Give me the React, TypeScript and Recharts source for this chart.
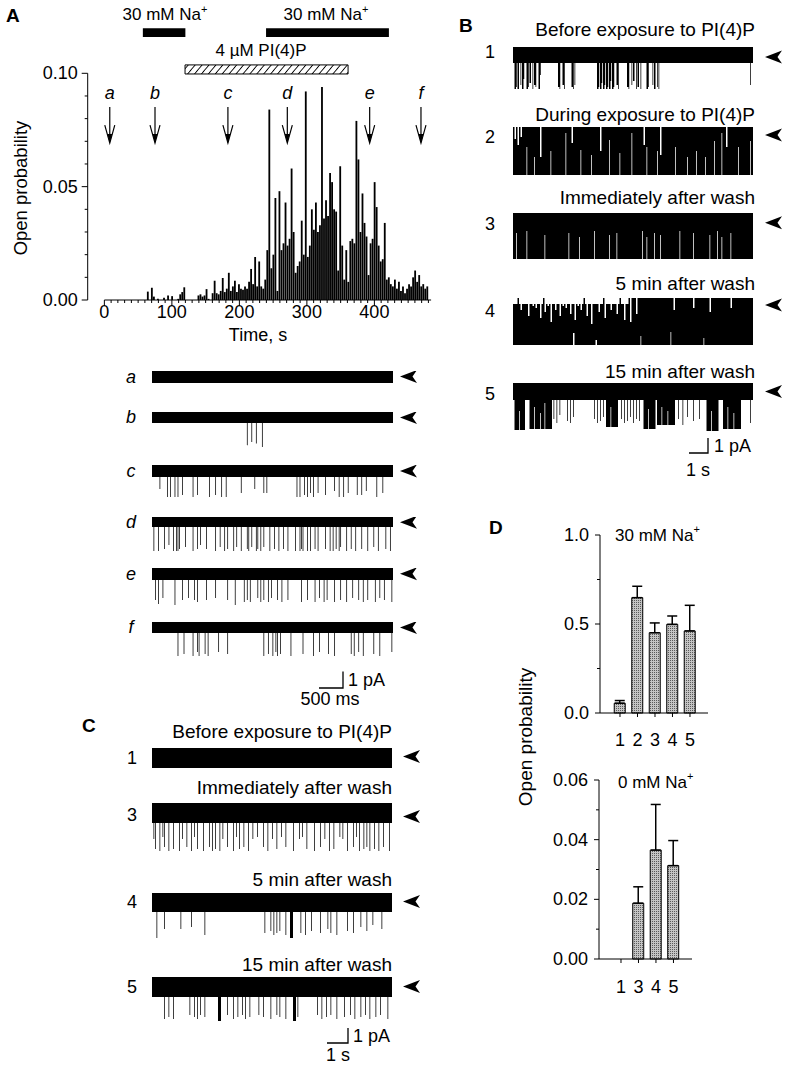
import React from 'react';
import {
  AreaChart, Area, BarChart, Bar, XAxis, YAxis,
  ReferenceArea, ReferenceDot, ReferenceLine, ErrorBar,
} from 'recharts';

const FONT = '"Liberation Sans", Arial, Helvetica, sans-serif';

// ---------- Panel A: open probability vs time (3 s bins, units of 0.001) ----------
const BIN_S = 3;
const openProb = [
  0, 0, 0, 0, 0, 0, 0, 0, 0, 0,
  0, 0, 0, 0, 0, 0, 0, 0, 0, 0,
  0, 3.7, 0, 5.4, 1.5, 0, 0.5, 0, 0, 1,
  0, 2, 0, 1.7, 0, 0, 0.5, 2.5, 3.5, 5.6,
  0, 0, 0, 0, 0, 0, 2, 2.5, 1.5, 2,
  4.8, 0.5, 0, 3, 8.5, 3, 2.5, 4, 9.7, 3.5,
  5, 12, 4, 6, 8.5, 3.5, 7, 5, 4.5, 6,
  5, 8, 13.7, 7, 19, 6, 17, 6, 5, 9,
  22, 84, 14, 20, 45, 4, 48, 22, 25, 43,
  24, 27, 58, 30, 12, 15, 17, 35, 20, 92,
  19, 24, 40, 31, 43, 30, 33, 94, 36, 44,
  37, 56, 52, 40, 39, 13, 59, 24, 9, 22,
  8, 26, 27, 25, 79, 62, 30, 47, 34, 28,
  11, 25, 27, 52, 41, 24, 17, 18, 34, 9,
  10, 7, 6, 9, 5, 8, 4, 6, 3, 5,
  7, 6, 10, 13, 8, 11, 6, 7, 5, 6,
];
const timeTicks = Array.from({ length: 49 }, (_, i) => i * 10);
const probTicks = [0, 10, 20, 30, 40, 50, 60, 70, 80, 90, 100];
const markers = [
  { id: 'a', t: 8 }, { id: 'b', t: 75 }, { id: 'c', t: 183 },
  { id: 'd', t: 271 }, { id: 'e', t: 393 }, { id: 'f', t: 469 },
];
const naPeriods = [[57, 120], [239.5, 421.5]];
const pipPeriod = [119.5, 361];

// ---------- single-channel traces: [from, depth, to?, top?] ----------
type Ev = [number, number, number?, number?];
interface TraceData { base: number; events: Ev[] }
const TRACE_N = 160;
const FINE = 2; // drawing sub-steps per sample, so single openings are hairlines

const tracesA: TraceData[] = [
  { base: 6, events: [] },
  { base: 5.5, events: [[63, 16.6], [66, 15], [69, 15.8], [73, 17.5]] },
  { base: 6, events: [[5, 12], [10, 16], [12, 16], [15, 16], [17, 16], [20, 15], [27, 16], [30, 15], [38, 16], [42, 15], [46, 16], [49, 16], [59, 14], [68, 12], [74, 14], [76, 14], [96, 16], [98, 16], [101, 15], [103, 16], [105, 14], [107, 16], [110, 14], [115, 15], [121, 13], [124, 16], [127, 16], [130, 14], [136, 15], [139, 15], [142, 13], [149, 16], [153, 14]] },
  { base: 5, events: [[1, 17], [4, 17], [8, 16], [11, 14], [14, 17], [16, 17], [17, 17], [18, 16], [22, 15], [27, 17], [30, 16], [32, 14], [36, 16], [42, 17], [45, 15], [48, 17], [50, 16], [54, 17], [56, 15], [59, 17], [63, 16], [64, 17], [66, 15], [69, 17], [70, 16], [72, 17], [74, 15], [78, 17], [81, 16], [84, 17], [87, 16], [90, 17], [95, 17], [98, 17], [99, 16], [100, 17], [103, 17], [105, 17], [108, 16], [110, 17], [115, 16], [118, 17], [120, 17], [122, 16], [124, 17], [125, 15], [129, 17], [132, 16], [135, 17], [139, 16], [143, 17], [147, 15], [150, 17], [155, 16], [158, 17]] },
  { base: 6, events: [[2, 16], [4, 18], [7, 15], [15, 18.5], [20, 16], [24, 15], [28, 16], [30, 17], [36, 16], [42, 15], [50, 16], [55, 18.5], [61, 17], [63, 16], [65, 17], [70, 15], [72, 17], [74, 16], [77, 17], [79, 15], [83, 16], [86, 17], [90, 16], [99, 17], [103, 16], [108, 17], [111, 15], [114, 17], [116, 16], [121, 17], [125, 16], [129, 17], [133, 15], [137, 16], [140, 17], [143, 16], [148, 17], [151, 15], [154, 16], [159, 17]] },
  { base: 5.5, events: [[17, 17], [21, 16], [27, 17], [30, 15], [31, 17], [35, 16], [37, 17], [44, 15], [50, 16], [74, 17], [77, 16], [80, 17], [82, 15], [83, 17], [85, 16], [92, 17], [100, 16], [107, 17], [111, 15], [117, 16], [121, 17], [132, 16], [134, 17], [137, 15], [140, 17], [147, 16], [151, 17], [159, 15]] },
];

const tracesB: TraceData[] = [
  { base: 8, events: [[1, 21, 1], [2, 20], [3, 21, 3], [5, 19], [6, 21, 6], [7, 16], [9, 21, 9], [10, 20], [11, 18, 11], [13, 21], [14, 19, 14], [15, 20], [17, 21, 17], [18, 14], [30, 20, 30], [31, 21], [33, 19, 33], [34, 21], [39, 20, 39], [40, 21], [41, 19], [56, 21, 56], [57, 20], [58, 21, 58], [59, 18], [60, 21, 60], [61, 19], [62, 21, 62], [63, 20], [64, 21, 64], [65, 17], [66, 21, 66], [67, 20], [69, 19, 69], [70, 21], [76, 20, 76], [77, 21], [79, 19], [80, 17, 80], [82, 21], [83, 20, 83], [85, 21], [89, 21, 89], [90, 20], [93, 19], [94, 21, 94], [96, 20], [97, 21], [158, 19]] },
  { base: 24, events: [[1, 24, 1, 6], [3, 24, 3, 9], [5, 24, 5, 5], [9, 10], [14, 15], [18, 24, 18, 15], [25, 12], [35, 3], [39, 24, 39, 8], [45, 11.5], [52, 14], [58, 24, 58, 12], [64, 6.5], [71, 13], [79, 3], [87, 24, 87, 9], [89, 10], [96, 12], [98, 24, 98, 14], [108, 10], [116, 15], [122, 12], [128, 15], [134, 7], [139, 3], [142, 24, 142, 10], [150, 10], [158, 7]] },
  { base: 23, events: [[2, 10], [9, 9], [21, 11], [37, 10], [44, 12], [54, 9], [64, 11], [69, 10], [86, 9], [89, 12], [94, 10], [98, 11], [111, 9], [120, 10], [131, 11], [136, 9], [139, 12], [145, 10]] },
  { base: 23.5, events: [[0, 23.5, 76, 3], [3, 23.5, 3, 0], [5, 23.5, 5, 6], [8, 23.5, 8, 3], [10, 23.5, 10, 9], [13, 23.5, 13, 4], [15, 23.5, 15, 5], [18, 23.5, 18, 10], [20, 23.5, 20, 0], [21, 23.5, 21, 7], [23, 23.5, 23, 4], [25, 23.5, 25, 12], [28, 23.5, 28, 6], [31, 23.5, 31, 9], [33, 23.5, 33, 4], [35, 23.5, 35, 5], [38, 23.5, 38, 8], [41, 23.5, 41, 11], [43, 23.5, 43, 4], [45, 23.5, 45, 6], [47, 23.5, 47, 0], [49, 23.5, 49, 9], [52, 23.5, 52, 13], [57, 23.5, 57, 7], [60, 23.5, 60, 0], [61, 23.5, 61, 10], [65, 23.5, 65, 6], [69, 23.5, 69, 8], [71, 23.5, 71, 0], [74, 23.5, 74, 11], [78, 23.5, 78, 12], [82, 23.5, 82, 8], [107, 23.5, 107, 6], [120, 23.5, 120, 5], [131, 23.5, 131, 7], [145, 23.5, 145, 5], [40, 17.5, 40, 3], [55, 21, 55, 3], [85, 19], [105, 17], [127, 20]] },
  { base: 8.5, events: [[1, 23.5, 7], [4, 14], [11, 23, 25], [14, 12], [18, 15], [21, 10], [27, 18], [29, 20], [31, 16], [36, 19], [38, 20], [40, 17], [54, 18], [56, 20], [58, 19], [60, 17], [62, 22, 69], [65, 12], [72, 18], [74, 20], [76, 19], [78, 17], [80, 20], [82, 18], [84, 19], [87, 23, 94], [90, 13], [96, 21, 107], [99, 12], [103, 14], [110, 18], [113, 21], [116, 17], [120, 19], [124, 18], [129, 24, 136], [132, 14], [140, 23, 151], [143, 12], [147, 15], [158, 20]] },
];

const tracesC: TraceData[] = [
  { base: 10, events: [] },
  { base: 10, events: [[1, 18], [2, 23], [5, 24], [7, 17], [8, 22], [11, 24], [14, 23], [18, 24], [20, 18], [23, 22], [26, 24], [28, 17], [30, 23], [34, 24], [38, 22], [40, 24], [42, 23], [45, 24], [47, 18], [50, 22], [54, 24], [56, 17], [58, 23], [61, 22], [64, 24], [67, 18], [70, 17], [74, 22], [77, 24], [80, 18], [83, 23], [86, 17], [89, 22], [94, 24], [98, 18], [100, 17], [103, 23], [108, 24], [112, 22], [115, 18], [118, 24], [121, 23], [125, 17], [127, 18], [130, 24], [134, 22], [136, 17], [138, 24], [141, 23], [143, 22], [145, 24], [148, 23], [151, 24], [154, 22], [158, 24]] },
  { base: 9.5, events: [[3, 22.5], [8, 18], [19, 18], [26, 17], [35, 21], [75, 20], [79, 19], [81, 21], [83, 20], [85, 19], [89, 21], [92, 22.5, 93], [99, 20], [102, 21], [106, 19], [112, 20], [117, 18], [119, 20], [123, 21], [130, 19], [134, 20], [139, 17], [143, 19], [147, 16], [153, 18]] },
  { base: 10, events: [[8, 21], [11, 20], [14, 21], [25, 19], [28, 20], [30, 21], [32, 19], [35, 20], [44, 22, 45], [50, 19], [54, 21], [57, 20], [60, 19], [62, 21], [65, 20], [71, 19], [74, 20], [79, 21], [83, 19], [85, 20], [89, 21], [94, 22, 95], [97, 20], [110, 19], [113, 21], [116, 20], [119, 19], [123, 21], [128, 20], [132, 19], [135, 21], [139, 20], [142, 19], [145, 21], [149, 20], [152, 19], [157, 21]] },
];

// ---------- Panel D ----------
const dUpperCond = ['1', '2', '3', '4', '5'];
const dUpperPo = [0.055, 0.648, 0.451, 0.498, 0.461];
const dUpperSem = [0.015, 0.064, 0.055, 0.047, 0.144];
const dLowerCond = ['1', '3', '4', '5'];
const dLowerPo = [0, 0.0187, 0.0365, 0.0313];
const dLowerSem = [0.0007, 0.0055, 0.0153, 0.0084];

// ---------- layout ----------
const rowsA = [371, 411.7, 465, 516.7, 568.3, 621.5];
const levelsA = [2.75, 2.8, 3, 2.6, 2.9, 2.75];
const rowsB = [47, 127, 213, 298, 383];
const levelsB = [5, 4, 4.9, 3.5, 4.3];
const rowsC = [748, 803, 893.3, 977];
const levelsC = [4.3, 6.8, 4.3, 4.8];

function buildTrace(base: number, events: Ev[]) {
  const n = TRACE_N * FINE;
  const lo: number[] = [];
  const hi: number[] = [];
  for (let i = 0; i < n; i++) { lo.push(-base); hi.push(0); }
  events.forEach(([from, depth, to, top = 0]) => {
    const a = from * FINE;
    const b = to === undefined ? a : to * FINE + FINE - 1;
    for (let k = a; k <= b; k++) { lo[k] = -depth; hi[k] = -(top as number); }
  });
  const rows = lo.map((l, i) => ({ i, r: [l, hi[i]] }));
  rows.push({ i: n, r: rows[n - 1].r });
  return rows;
}

const ClosedArrow = ({ cx, cy }: { cx: number; cy: number }) => (
  <path d={`M${cx},${cy} L${cx + 17},${cy - 6.5} L${cx + 12.5},${cy} L${cx + 17},${cy + 6.5} Z`} fill="#000" />
);

function Trace({ x, y, width, gap, level, base, events }: any) {
  const data = buildTrace(base, events);
  const n = TRACE_N * FINE;
  return (
    <div style={{ position: 'absolute', left: x, top: y }}>
      <AreaChart width={width + 34} height={52} data={data} margin={{ top: 0, right: 34, bottom: 0, left: 0 }}>
        <XAxis dataKey="i" type="number" domain={[0, n]} hide />
        <YAxis type="number" domain={[-26, 0]} hide />
        <Area type="stepAfter" dataKey="r" stroke="none" fill="#000" fillOpacity={1} isAnimationActive={false} />
        <ReferenceDot x={n} y={-level} r={0} ifOverflow="visible"
          shape={(p: any) => <ClosedArrow cx={p.cx + gap} cy={p.cy} />} />
      </AreaChart>
    </div>
  );
}

const TimeTick = ({ x, y, payload }: any) => {
  const major = payload.value % 100 === 0;
  return (
    <g>
      <line x1={x} x2={x} y1={y} y2={y + (major ? 6 : 3)} stroke="#000" />
      {major && <text x={x} y={y + 18} textAnchor="middle" fontSize={18} fontFamily={FONT}>{payload.value}</text>}
    </g>
  );
};

const ProbTick = ({ x, y, payload }: any) => {
  const major = payload.value % 50 === 0;
  return (
    <g>
      <line x1={x} x2={x - (major ? 6 : 3)} y1={y} y2={y} stroke="#000" />
      {major && <text x={x - 10} y={y} dominantBaseline="central" textAnchor="end" fontSize={18} fontFamily={FONT}>{(payload.value / 1000).toFixed(2)}</text>}
    </g>
  );
};

const MarkerArrow = ({ cx, cy, id }: any) => (
  <g>
    <text x={cx} y={cy - 14} dominantBaseline="central" textAnchor="middle" fontStyle="italic" fontSize={18} fontFamily={FONT}>{id}</text>
    <line x1={cx} x2={cx} y1={cy} y2={cy + 34} stroke="#000" strokeWidth={1.2} />
    <polyline points={`${cx - 5},${cy + 18} ${cx},${cy + 36} ${cx + 5},${cy + 18}`} fill="none" stroke="#000" strokeWidth={1.2} />
    <polygon points={`${cx - 2.5},${cy + 27} ${cx + 2.5},${cy + 27} ${cx},${cy + 36}`} fill="#000" />
  </g>
);

function Histogram() {
  const data = openProb.map((p, i) => ({ t: i * BIN_S + BIN_S / 2, p }));
  return (
    <div style={{ position: 'absolute', left: 0, top: 0 }}>
      <BarChart width={460} height={345} data={data} margin={{ top: 73.3, right: 28.9, bottom: 0, left: 0 }}>
        <XAxis type="number" dataKey="t" domain={[-24.7, 484]} ticks={timeTicks} interval={0}
          tickSize={0} tickMargin={0} height={45} axisLine={false} tickLine={false} tick={<TimeTick />} />
        <YAxis type="number" domain={[0, 100]} ticks={probTicks} interval={0}
          tickSize={0} tickMargin={0} width={87.7} axisLine={{ stroke: '#000' }} tickLine={false} tick={<ProbTick />} />
        <ReferenceLine segment={[{ x: 0, y: 0 }, { x: 484, y: 0 }]} stroke="#000" ifOverflow="visible" />
        <Bar dataKey="p" fill="#000" barSize={2.5} isAnimationActive={false} />
        {naPeriods.map(([a, b], k) => (
          <ReferenceArea key={k} x1={a} x2={b} y1={116} y2={119.9} fill="#000" fillOpacity={1} ifOverflow="visible" />
        ))}
        <ReferenceArea x1={pipPeriod[0]} x2={pipPeriod[1]} y1={99.7} y2={103.7} fill="url(#hatch)" fillOpacity={1}
          stroke="#000" strokeWidth={1} ifOverflow="visible" />
        {markers.map((m) => (
          <ReferenceDot key={m.id} x={m.t} y={85.1} r={0} ifOverflow="visible"
            shape={(p: any) => <MarkerArrow cx={p.cx} cy={p.cy} id={m.id} />} />
        ))}
      </BarChart>
    </div>
  );
}

function PoChart({ cond, po, sem, yMax, yTicks, majorStep, digits, xDomain, width, height, axisW, axisH, marginRight, labelDy }: any) {
  const data = cond.map((c: string, i: number) => ({ pos: i + 1, po: po[i], err: [0, sem[i]] }));
  const XT = ({ x, y, payload }: any) => (
    <g>
      <line x1={x} x2={x} y1={y} y2={y + 4} stroke="#000" />
      <text x={x} y={y + labelDy} dominantBaseline="central" textAnchor="middle" fontSize={18} fontFamily={FONT}>{cond[payload.value - 1]}</text>
    </g>
  );
  const YT = ({ x, y, payload }: any) => {
    const r = payload.value / majorStep;
    const major = Math.abs(r - Math.round(r)) < 1e-6;
    return (
      <g>
        <line x1={x} x2={x - (major ? 5 : 3)} y1={y} y2={y} stroke="#000" />
        {major && <text x={x - 11} y={y} dominantBaseline="central" textAnchor="end" fontSize={18} fontFamily={FONT}>{payload.value.toFixed(digits)}</text>}
      </g>
    );
  };
  return (
    <BarChart width={width} height={height} data={data} margin={{ top: 35, right: marginRight, bottom: 0, left: 0 }}>
      <XAxis type="number" dataKey="pos" domain={xDomain} ticks={cond.map((_: string, i: number) => i + 1)} interval={0}
        tickSize={0} tickMargin={0} height={axisH} axisLine={{ stroke: '#000' }} tickLine={false} tick={<XT />} />
      <YAxis type="number" domain={[0, yMax]} ticks={yTicks} interval={0}
        tickSize={0} tickMargin={0} width={axisW} axisLine={{ stroke: '#000' }} tickLine={false} tick={<YT />} />
      <Bar dataKey="po" barSize={11} fill="url(#stipple)" stroke="#000" strokeWidth={1} isAnimationActive={false}>
        <ErrorBar dataKey="err" width={5} stroke="#000" strokeWidth={1.5} direction="y" />
      </Bar>
    </BarChart>
  );
}

function Txt({ x, y, children, size = 18, anchor = 'start', bold, italic, rotate }: any) {
  return (
    <text x={x} y={y} fontSize={size} textAnchor={anchor} dominantBaseline="central" fontFamily={FONT}
      fontWeight={bold ? 'bold' : undefined} fontStyle={italic ? 'italic' : undefined}
      transform={rotate ? `rotate(${rotate} ${x} ${y})` : undefined} fill="#000">{children}</text>
  );
}

const Sup = ({ children }: any) => <tspan fontSize={11} dy={-6}>{children}</tspan>;

const ScaleBar = ({ x, y, w, h }: any) => (
  <polyline points={`${x - w},${y} ${x},${y} ${x},${y - h}`} fill="none" stroke="#000" strokeWidth={1.3} />
);

export default function App() {
  const letters = ['a', 'b', 'c', 'd', 'e', 'f'];
  return (
    <div style={{ position: 'absolute', left: 0, top: 0, width: 788, height: 1067, background: '#fff', overflow: 'hidden' }}>
      <svg width={0} height={0} style={{ position: 'absolute' }}>
        <defs>
          <pattern id="hatch" patternUnits="userSpaceOnUse" width={5.3} height={5.3} patternTransform="rotate(40)">
            <rect width={5.3} height={5.3} fill="#fff" />
            <line x1={0} y1={0} x2={0} y2={5.3} stroke="#000" strokeWidth={1.8} />
          </pattern>
          <pattern id="stipple" patternUnits="userSpaceOnUse" width={2} height={2}>
            <rect width={2} height={2} fill="#c4c4c4" />
            <rect width={1} height={1} fill="#5a5a5a" />
          </pattern>
        </defs>
      </svg>

      <Histogram />
      {tracesA.map((tr, k) => (
        <Trace key={'A' + k} x={152} y={rowsA[k]} width={241} gap={7} level={levelsA[k]} {...tr} />
      ))}
      {tracesB.map((tr, k) => (
        <Trace key={'B' + k} x={513} y={rowsB[k]} width={240} gap={12} level={levelsB[k]} {...tr} />
      ))}
      {tracesC.map((tr, k) => (
        <Trace key={'C' + k} x={152} y={rowsC[k]} width={240} gap={11} level={levelsC[k]} {...tr} />
      ))}

      <div style={{ position: 'absolute', left: 500, top: 500 }}>
        <PoChart cond={dUpperCond} po={dUpperPo} sem={dUpperSem} yMax={1} yTicks={[0, 0.25, 0.5, 0.75, 1]}
          majorStep={0.5} digits={1} xDomain={[-0.143, 6.03]} width={230} height={250}
          axisW={100} axisH={37} marginRight={22} labelDy={27} />
      </div>
      <div style={{ position: 'absolute', left: 500, top: 745 }}>
        <PoChart cond={dLowerCond} po={dLowerPo} sem={dLowerSem} yMax={0.06}
          yTicks={[0, 0.01, 0.02, 0.03, 0.04, 0.05, 0.06]} majorStep={0.02} digits={2}
          xDomain={[-0.257, 5.06]} width={230} height={260}
          axisW={99} axisH={46} marginRight={38} labelDy={28} />
      </div>

      <svg width={788} height={1067} style={{ position: 'absolute', left: 0, top: 0, pointerEvents: 'none' }}>
        {/* panel A */}
        <Txt x={6} y={15} size={19} bold>A</Txt>
        <Txt x={165} y={14.5} size={17} anchor="middle">30 mM Na<Sup>+</Sup></Txt>
        <Txt x={326} y={14.5} size={17} anchor="middle">30 mM Na<Sup>+</Sup></Txt>
        <Txt x={261} y={50.5} size={17} anchor="middle">4 µM PI(4)P</Txt>
        <Txt x={20} y={188} size={18.5} anchor="middle" rotate={-90}>Open probability</Txt>
        <Txt x={258} y={335} anchor="middle">Time, s</Txt>
        {letters.map((l, k) => (
          <Txt key={l} x={131} y={rowsA[k] + levelsA[k] * 2} italic anchor="middle">{l}</Txt>
        ))}
        <ScaleBar x={343} y={688} w={24} h={16.5} />
        <Txt x={348} y={680}>1 pA</Txt>
        <Txt x={330} y={699} anchor="middle">500 ms</Txt>

        {/* panel B */}
        <Txt x={459} y={25} size={19} bold>B</Txt>
        <Txt x={755} y={29} size={19} anchor="end">Before exposure to PI(4)P</Txt>
        <Txt x={755} y={114} size={19} anchor="end">During exposure to PI(4)P</Txt>
        <Txt x={755} y={197} size={19} anchor="end">Immediately after wash</Txt>
        <Txt x={755} y={283} size={19} anchor="end">5 min after wash</Txt>
        <Txt x={755} y={371} size={19} anchor="end">15 min after wash</Txt>
        {['1', '2', '3', '4', '5'].map((n, k) => (
          <Txt key={n} x={490} y={[52, 137, 224, 311, 394][k]} anchor="middle">{n}</Txt>
        ))}
        <ScaleBar x={708} y={453} w={19} h={15} />
        <Txt x={714} y={446}>1 pA</Txt>
        <Txt x={698} y={470} anchor="middle">1 s</Txt>

        {/* panel C */}
        <Txt x={82} y={725} size={19} bold>C</Txt>
        <Txt x={392} y={731} size={19} anchor="end">Before exposure to PI(4)P</Txt>
        <Txt x={392} y={787} size={19} anchor="end">Immediately after wash</Txt>
        <Txt x={392} y={879} size={19} anchor="end">5 min after wash</Txt>
        <Txt x={392} y={964} size={19} anchor="end">15 min after wash</Txt>
        {['1', '3', '4', '5'].map((n, k) => (
          <Txt key={n} x={132} y={[758, 815, 902, 987][k]} anchor="middle">{n}</Txt>
        ))}
        <ScaleBar x={348} y={1043} w={21} h={15} />
        <Txt x={353} y={1036}>1 pA</Txt>
        <Txt x={338} y={1055} anchor="middle">1 s</Txt>

        {/* panel D */}
        <Txt x={489} y={527} size={19} bold>D</Txt>
        <Txt x={615} y={535} size={17}>30 mM Na<Sup>+</Sup></Txt>
        <Txt x={618} y={782} size={17}>0 mM Na<Sup>+</Sup></Txt>
        <Txt x={525} y={737} size={19} anchor="middle" rotate={-90}>Open probability</Txt>
      </svg>
    </div>
  );
}
